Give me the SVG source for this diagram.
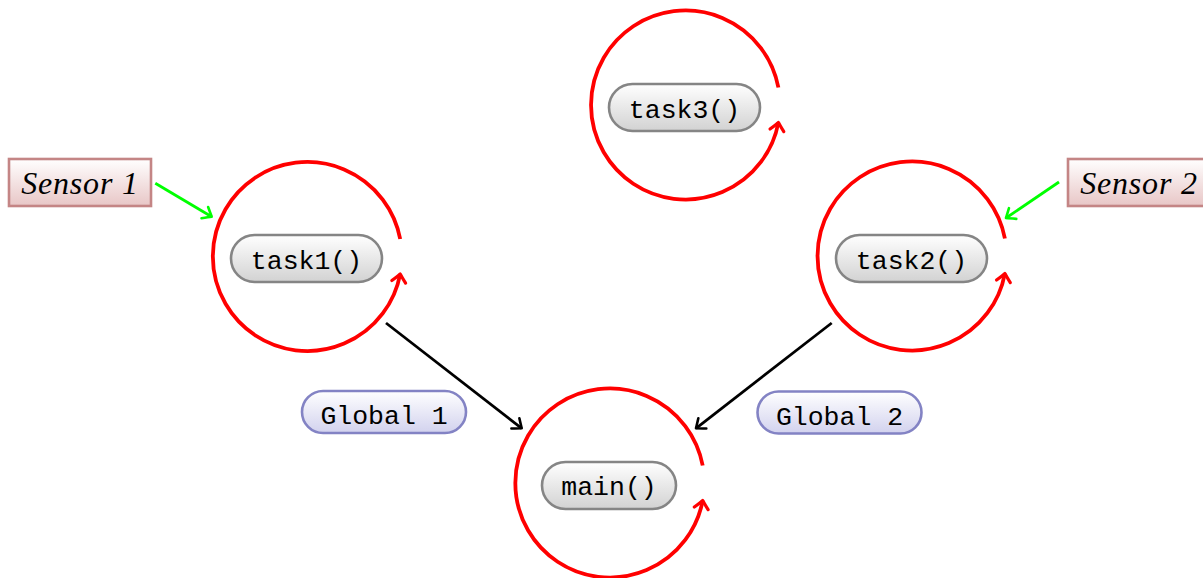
<svg xmlns="http://www.w3.org/2000/svg" width="1203" height="578" viewBox="0 0 1203 578">
<style>
.task rect{fill:url(#gGray);stroke:#858585;stroke-width:2.6}
.sensor rect{fill:url(#gRed);stroke:#c48585;stroke-width:2.6}
.glob rect{fill:url(#gBlue);stroke:#8383c4;stroke-width:2.6}
.mono{font-family:"Liberation Mono","DejaVu Sans Mono",monospace;font-size:26.5px;fill:#000;text-anchor:middle}
.ital{font-family:"Liberation Serif","DejaVu Serif",serif;font-style:italic;font-size:32px;letter-spacing:0.8px;fill:#000;text-anchor:middle}
.loop{fill:none;stroke:#ff0000;stroke-width:3.8;marker-end:url(#aRed)}
.green{fill:none;stroke:#00ff00;stroke-width:2.8;marker-end:url(#aGreen)}
.black{fill:none;stroke:#000;stroke-width:2.8;marker-end:url(#aBlack)}
</style>
<defs>
<linearGradient id="gGray" x1="0" y1="0" x2="0" y2="1"><stop offset="0" stop-color="#ffffff"/><stop offset="1" stop-color="#d2d2d2"/></linearGradient>
<linearGradient id="gRed" x1="0" y1="0" x2="0" y2="1"><stop offset="0" stop-color="#ffffff"/><stop offset="1" stop-color="#e8c6c6"/></linearGradient>
<linearGradient id="gBlue" x1="0" y1="0" x2="0" y2="1"><stop offset="0" stop-color="#ffffff"/><stop offset="1" stop-color="#d2d2ee"/></linearGradient>
<marker id="aRed" markerUnits="userSpaceOnUse" markerWidth="20" markerHeight="20" refX="0" refY="0" orient="auto" overflow="visible"><path d="M-8,-7 Q-2.5,-2 0,0 Q-2.5,2 -8,7" fill="none" stroke="#ff0000" stroke-width="3.2" stroke-linecap="round" stroke-linejoin="round"/></marker>
<marker id="aGreen" markerUnits="userSpaceOnUse" markerWidth="20" markerHeight="20" refX="0" refY="0" orient="auto" overflow="visible"><path d="M-8,-6.5 Q-2.5,-2 0,0 Q-2.5,2 -8,6.5" fill="none" stroke="#00ff00" stroke-width="2.6" stroke-linecap="round" stroke-linejoin="round"/></marker>
<marker id="aBlack" markerUnits="userSpaceOnUse" markerWidth="20" markerHeight="20" refX="0" refY="0" orient="auto" overflow="visible"><path d="M-8,-6.5 Q-2.5,-2 0,0 Q-2.5,2 -8,6.5" fill="none" stroke="#000" stroke-width="2.6" stroke-linecap="round" stroke-linejoin="round"/></marker>
</defs>
<rect width="1203" height="578" fill="#ffffff"/>
<g id="connectors">
<path class="loop" d="M400.2,239 A94.5,94.5 0 1 0 400.2,274"/>
<path class="loop" d="M778.4,87.5 A94.5,94.5 0 1 0 778.4,122.5"/>
<path class="loop" d="M1004.9,238.5 A94.5,94.5 0 1 0 1004.9,273.5"/>
<path class="loop" d="M702.7,465.5 A94.5,94.5 0 1 0 702.7,500.5"/>
<path class="green" d="M155.3,183.3 L211.7,216.7"/>
<path class="green" d="M1059,182 L1006,218"/>
<path class="black" d="M386,323 L521.7,428.3"/>
<path class="black" d="M831.7,323 L696,428.3"/>
</g>
<g id="task1" class="task"><rect x="231" y="235" width="151" height="47" rx="23.5"/><text class="mono" x="306.5" y="268.5">task1()</text></g>
<g id="task3" class="task"><rect x="609" y="84" width="151" height="47" rx="23.5"/><text class="mono" x="684.5" y="117.5">task3()</text></g>
<g id="task2" class="task"><rect x="836" y="235" width="151" height="47" rx="23.5"/><text class="mono" x="911.5" y="268.5">task2()</text></g>
<g id="main" class="task"><rect x="542" y="462" width="134" height="47" rx="23.5"/><text class="mono" x="609" y="495">main()</text></g>
<g id="global1" class="glob"><rect x="302" y="391" width="164" height="42" rx="21"/><text class="mono" x="384" y="424">Global 1</text></g>
<g id="global2" class="glob"><rect x="757.5" y="391.5" width="164" height="42" rx="21"/><text class="mono" x="839.5" y="424.5">Global 2</text></g>
<g id="sensor1" class="sensor"><rect x="9" y="159" width="142" height="47"/><text class="ital" x="80" y="194">Sensor 1</text></g>
<g id="sensor2" class="sensor"><rect x="1068" y="159" width="142" height="47"/><text class="ital" x="1139" y="194">Sensor 2</text></g>
</svg>
